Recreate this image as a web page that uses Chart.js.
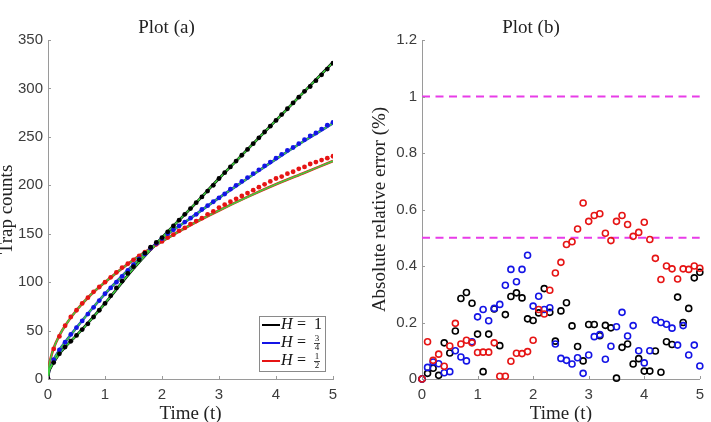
<!DOCTYPE html>
<html>
<head>
<meta charset="utf-8">
<script src="https://cdn.jsdelivr.net/npm/chart.js@4.4.0/dist/chart.umd.min.js"></script>
<style>
  html, body { margin: 0; padding: 0; background: #fff; }
  #wrap { position: relative; width: 711px; height: 422px; overflow: hidden; }
  .box { position: absolute; top: 0; height: 422px; }
</style>
</head>
<body>
<div id="wrap">
  <div class="box" style="left:0;width:355px"><canvas id="chartA" width="355" height="422" style="width:355px;height:422px"></canvas></div>
  <div class="box" style="left:355px;width:356px"><canvas id="chartB" width="356" height="422" style="width:356px;height:422px"></canvas></div>
</div>
<script>
// sample times (both panels)
var times = [0,0.1,0.2,0.3,0.4,0.5,0.6,0.7,0.8,0.9,1,1.1,1.2,1.3,1.4,1.5,1.6,1.7,1.8,1.9,2,
  2.1,2.2,2.3,2.4,2.5,2.6,2.7,2.8,2.9,3,3.1,3.2,3.3,3.4,3.5,3.6,3.7,3.8,3.9,4,
  4.1,4.2,4.3,4.4,4.5,4.6,4.7,4.8,4.9,5];

// Plot (a): simulated trap counts (dots)
var countsH1  = [0,17,26,33,39,45,51,57,64,71,78,86,94,101,109,116,123,130,136,141,146,
  152,158,164,170,176,182,188,194,200,207,213,219,225,231,237,243,249,255,261,267,
  273,279,285,291,297,302,308,314,320,326];
var countsH34 = [0,20,30,38,46,53,60,67,74,81,88,94,100,106,112,118,124,129,135,140,145,
  150,154,158,162,166,170,175,179,183,187,191,196,200,204,208,212,216,220,224,228,
  232,236,239,243,247,251,254,258,262,265];
var countsH12 = [0,31,44,55,64,71,78,84,90,95,100,105,110,115,119,123,127,131,135,139,142,
  146,149,153,156,160,163,166,170,173,177,180,183,186,189,192,195,198,201,204,207,
  209,212,214,217,219,222,224,226,228,230];

// Plot (a): model curves
var lineTimes = [0,0.02,0.05,0.1,0.2,0.3,0.5,0.75,1,1.5,2,2.5,3,3.5,4,4.5,5];
var modelH1   = [0,8,12,17,26,33,45,61,78,114,146,176,207,237,267,297,327];
var modelH34  = [0,9,13,20,30,38,53,71,88,118,145,166,187,207,227,246,264];
var modelH12  = [0,14,22,32,45,55,71,87,100,123,142,159,174,188,201,213,225];

// Plot (b): absolute relative error (%)
var errH1  = [0,0.02,0.038,0.013,0.128,0.092,0.17,0.285,0.306,0.268,0.159,0.026,0.159,0.248,0.118,0.228,
  0.292,0.305,0.287,0.213,0.207,0.234,0.32,0.236,0.134,0.241,0.27,0.188,0.115,0.064,0.193,0.193,0.153,
  0.19,0.181,0.003,0.112,0.124,0.053,0.072,0.028,0.028,0.099,0.024,0.132,0.122,0.29,0.2,0.25,0.358,0.378];
var errH34 = [0,0.041,0.06,0.054,0.022,0.026,0.1,0.078,0.064,0.132,0.22,0.246,0.206,0.25,0.264,0.332,
  0.388,0.344,0.388,0.438,0.258,0.293,0.246,0.252,0.124,0.073,0.066,0.053,0.075,0.02,0.085,0.15,0.157,
  0.07,0.116,0.185,0.236,0.152,0.189,0.1,0.057,0.1,0.209,0.2,0.194,0.18,0.12,0.189,0.085,0.12,0.046];
var errH12 = [0,0.132,0.066,0.088,0.045,0.117,0.197,0.124,0.137,0.128,0.094,0.095,0.095,0.128,0.01,0.01,
  0.063,0.091,0.09,0.097,0.137,0.246,0.23,0.314,0.375,0.413,0.476,0.486,0.531,0.623,0.558,0.579,0.585,
  0.516,0.49,0.558,0.579,0.547,0.505,0.519,0.555,0.494,0.427,0.352,0.4,0.39,0.354,0.39,0.388,0.4,0.392];
var thresholds = [1, 0.5];

var hLabels = ['1', '3/4', '1/2'];
var hColors = ['#000000', '#1414e6', '#e61414'];
var green = '#3fcf3f';
var axisColor = '#9a9a9a';
var tickColor = '#3c3c3c';
var serif = '"Liberation Serif", "DejaVu Serif", serif';
var sans = '"Liberation Sans", Arial, sans-serif';

function pts(xs, ys) {
  return xs.map(function(x, i) { return { x: x, y: ys[i] }; });
}

// small inward tick marks, MATLAB style
var innerTicks = {
  id: 'innerTicks',
  afterDatasetsDraw: function(chart) {
    var ctx = chart.ctx, xs = chart.scales.x, ys = chart.scales.y, a = chart.chartArea;
    ctx.save();
    ctx.strokeStyle = axisColor; ctx.lineWidth = 1;
    ctx.beginPath();
    xs.ticks.forEach(function(t) {
      var px = Math.round(xs.getPixelForValue(t.value)) + 0.5;
      ctx.moveTo(px, a.bottom); ctx.lineTo(px, a.bottom - 3);
    });
    ys.ticks.forEach(function(t) {
      var py = Math.round(ys.getPixelForValue(t.value)) + 0.5;
      ctx.moveTo(a.left, py); ctx.lineTo(a.left + 3, py);
    });
    ctx.stroke();
    ctx.restore();
  }
};

// legend box inside plot (a)
var hLegend = {
  id: 'hLegend',
  afterDraw: function(chart) {
    var ctx = chart.ctx;
    var x0 = 259, y0 = 316, w = 66, h = 55;
    ctx.save();
    ctx.fillStyle = '#fff';
    ctx.fillRect(x0, y0, w, h);
    ctx.strokeStyle = '#8a8a8a'; ctx.lineWidth = 1;
    ctx.strokeRect(x0 + 0.5, y0 + 0.5, w, h);
    ctx.textBaseline = 'middle'; ctx.textAlign = 'left';
    hLabels.forEach(function(lab, i) {
      var cy = y0 + 9 + i * 18;
      ctx.strokeStyle = hColors[i]; ctx.lineWidth = 2;
      ctx.beginPath(); ctx.moveTo(x0 + 3, cy); ctx.lineTo(x0 + 21, cy); ctx.stroke();
      ctx.fillStyle = '#111';
      ctx.font = 'italic 16px ' + serif;
      ctx.fillText('H', x0 + 22, cy);
      ctx.font = '16px ' + serif;
      ctx.fillText('=', x0 + 38, cy);
      var parts = lab.split('/');
      if (parts.length === 1) {
        ctx.fillText(lab, x0 + 55, cy);
      } else {
        ctx.font = '9px ' + serif;
        ctx.textAlign = 'center';
        ctx.fillText(parts[0], x0 + 58, cy - 4.5);
        ctx.fillText(parts[1], x0 + 58, cy + 5);
        ctx.strokeStyle = '#111'; ctx.lineWidth = 0.8;
        ctx.beginPath(); ctx.moveTo(x0 + 55, cy + 0.5); ctx.lineTo(x0 + 61, cy + 0.5); ctx.stroke();
        ctx.textAlign = 'left';
      }
    });
    ctx.restore();
  }
};

function axes(ymax, ystep, yTitle, yTitlePad, yWidth) {
  return {
    x: {
      type: 'linear', min: 0, max: 5,
      grid: { display: false, drawTicks: false },
      border: { display: true, color: axisColor, width: 1 },
      ticks: { stepSize: 1, padding: 7, color: tickColor, font: { family: sans, size: 15 } },
      title: { display: true, text: 'Time (t)', color: '#222', padding: { top: 0, bottom: -2 },
               font: { family: serif, size: 19, lineHeight: 1 } },
      afterFit: function(s) { s.height = 43; }
    },
    y: {
      type: 'linear', min: 0, max: ymax,
      grid: { display: false, drawTicks: false },
      border: { display: true, color: axisColor, width: 1 },
      ticks: { stepSize: ystep, padding: 5, color: tickColor, font: { family: sans, size: 15 },
               callback: function(v) { return String(Math.round(v * 10) / 10); } },
      title: { display: true, text: yTitle, color: '#222', padding: { top: yTitlePad, bottom: 0 },
               font: { family: serif, size: 19, lineHeight: 1 } },
      afterFit: function(s) { s.width = yWidth; }
    }
  };
}

function titleOpts(text) {
  return { display: true, text: text, color: '#222', padding: { top: 19, bottom: 2 },
           font: { family: serif, size: 19, weight: 'normal', lineHeight: 1 } };
}

// Plot (a)
var dsA = [];
[countsH1, countsH34, countsH12].forEach(function(arr, i) {
  dsA.push({ data: pts(times, arr), showLine: false, pointRadius: 2.4, pointBorderWidth: 0,
    backgroundColor: hColors[i], borderColor: hColors[i], order: 1 });
});
[modelH1, modelH34, modelH12].forEach(function(arr, i) {
  dsA.push({ data: pts(lineTimes, arr), showLine: true, pointRadius: 0, borderColor: green,
    borderWidth: 1.6, cubicInterpolationMode: 'monotone', order: 2 });
  dsA.push({ data: pts(lineTimes, arr), showLine: true, pointRadius: 0, borderColor: hColors[i],
    borderWidth: 2.6, cubicInterpolationMode: 'monotone', order: 3 });
});

new Chart(document.getElementById('chartA'), {
  type: 'scatter',
  data: { datasets: dsA },
  options: {
    responsive: false, animation: false,
    layout: { padding: { left: 0, right: 22, top: 0, bottom: 0 } },
    plugins: { legend: { display: false }, tooltip: { enabled: false }, title: titleOpts('Plot (a)') },
    scales: axes(350, 50, 'Trap counts', -2, 48)
  },
  plugins: [innerTicks, hLegend]
});

// Plot (b)
var dsB = [];
[errH12, errH34, errH1].forEach(function(arr, k) {
  var i = 2 - k;
  dsB.push({ data: pts(times, arr), showLine: false, pointRadius: 3, pointBorderWidth: 1.6,
    backgroundColor: 'rgba(0,0,0,0)', borderColor: hColors[i], clip: false, order: k + 1 });
});
thresholds.forEach(function(v) {
  dsB.push({ data: [{ x: 0, y: v }, { x: 5, y: v }], showLine: true, pointRadius: 0,
    borderColor: '#e83ce8', borderWidth: 2, borderDash: [8, 5.5], order: 5 });
});

new Chart(document.getElementById('chartB'), {
  type: 'scatter',
  data: { datasets: dsB },
  options: {
    responsive: false, animation: false,
    layout: { padding: { left: 0, right: 4, top: 0, bottom: 0 } },
    plugins: { legend: { display: false }, tooltip: { enabled: false }, title: titleOpts('Plot (b)') },
    scales: axes(1.2, 0.2, 'Absolute relative error (%)', 16, 67)
  },
  plugins: [innerTicks]
});
</script>
</body>
</html>
